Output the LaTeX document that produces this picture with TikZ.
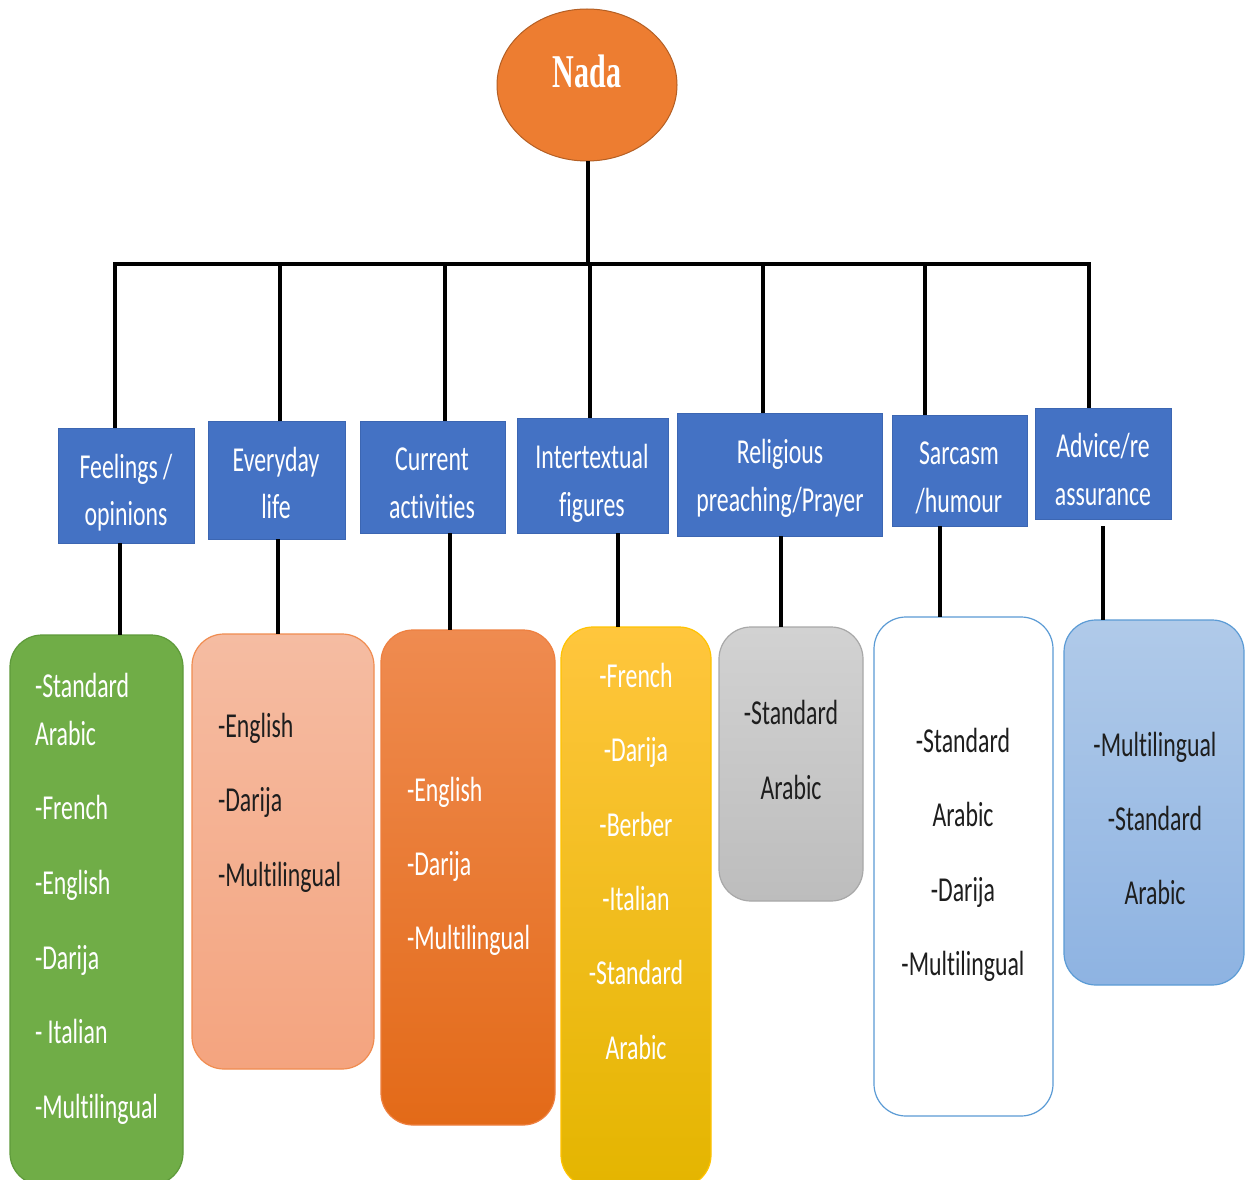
\documentclass[tikz,border=0pt]{standalone}
\usepackage{fontspec}
\setmainfont{Carlito}[FakeStretch=0.68, Ligatures={NoCommon,NoContextual}, RawFeature={-liga;-clig;-dlig}]
\newfontfamily\namefont{Liberation Serif}[FakeStretch=0.64]
\usetikzlibrary{shapes.geometric}

\definecolor{rootfill}{HTML}{ED7D31}
\definecolor{rootedge}{HTML}{B45F24}
\definecolor{catblue}{HTML}{4472C4}
\definecolor{catedge}{HTML}{3C66B2}
\definecolor{greenfill}{HTML}{70AD47}
\definecolor{greenedge}{HTML}{5E9A3A}
\definecolor{salmontop}{HTML}{F5BCA2}
\definecolor{salmonbot}{HTML}{F4A47F}
\definecolor{salmonedge}{HTML}{F08C50}
\definecolor{orangetop}{HTML}{EF8B50}
\definecolor{orangebot}{HTML}{E36A18}
\definecolor{orangeedge}{HTML}{EE8040}
\definecolor{yellowtop}{HTML}{FFC63D}
\definecolor{yellowmid}{HTML}{FFC300}
\definecolor{yellowbot}{HTML}{E4B500}
\definecolor{graytop}{HTML}{D2D2D2}
\definecolor{graybot}{HTML}{BDBDBD}
\definecolor{grayedge}{HTML}{A8A8A8}
\definecolor{skyedge}{HTML}{5B9BD5}
\definecolor{skytop}{HTML}{B0CAE9}
\definecolor{skybot}{HTML}{8EB3E2}
\definecolor{inkdark}{HTML}{1E1E1E}

\tikzset{
  every node/.style={inner sep=0pt, outer sep=0pt},
  wire/.style={line width=3.4pt, black},
  root/.style={ellipse, fill=rootfill, draw=rootedge, line width=1pt,
    minimum width=180, minimum height=152},
  rootname/.style={font=\namefont\bfseries\fontsize{47}{50}\selectfont, text=white, anchor=base},
  catbox/.style={rectangle, fill=catblue, draw=catedge, line width=1pt},
  cattext/.style={font=\fontsize{35}{40}\selectfont, text=white, anchor=base},
  langbox/.style={rectangle, rounded corners=32, line width=1.2pt},
  item/.style={font=\fontsize{35}{40}\selectfont, anchor=base},
  itemL/.style={item, anchor=base west},
}

\begin{document}
\begin{tikzpicture}[x=1pt, y=-1pt]
\clip (0,0) rectangle (1245,1180);
\fill[white] (0,0) rectangle (1245,1180);

% root
\node[root] (root) at (587,85) {};
\node[rootname] (rootlbl) at (587,88) {Nada};

% category boxes
\node[catbox, minimum width=136, minimum height=115] (c1) at (126,485.5) {};
\node[catbox, minimum width=137, minimum height=118] (c2) at (276.5,480) {};
\node[catbox, minimum width=145, minimum height=112] (c3) at (432.5,477) {};
\node[catbox, minimum width=151, minimum height=115] (c4) at (592.5,475.5) {};
\node[catbox, minimum width=205, minimum height=123] (c5) at (779.5,474.5) {};
\node[catbox, minimum width=135, minimum height=111] (c6) at (959.5,470.5) {};
\node[catbox, minimum width=136, minimum height=111] (c7) at (1103,463.5) {};

\node[cattext] (c1a) at (126,478) {Feelings /};
\node[cattext] (c1b) at (126,525) {opinions};
\node[cattext] (c2a) at (276,471) {Everyday};
\node[cattext] (c2b) at (276,518) {life};
\node[cattext] (c3a) at (432,470) {Current};
\node[cattext] (c3b) at (432,518) {activities};
\node[cattext] (c4a) at (592,468) {Intertextual};
\node[cattext] (c4b) at (592,516) {figures};
\node[cattext] (c5a) at (780,463) {Religious};
\node[cattext] (c5b) at (780,511) {preaching/Prayer};
\node[cattext] (c6a) at (959,464) {Sarcasm};
\node[cattext] (c6b) at (959,512) {/humour};
\node[cattext] (c7a) at (1103,457) {Advice/re};
\node[cattext] (c7b) at (1103,505) {assurance};

% language boxes
\node[langbox, fill=greenfill, draw=greenedge, minimum width=173, minimum height=550] (l1) at (96.5,910) {};
\node[langbox, top color=salmontop, bottom color=salmonbot, draw=salmonedge, minimum width=182, minimum height=435] (l2) at (283,851.5) {};
\node[langbox, top color=orangetop, bottom color=orangebot, draw=orangeedge, minimum width=174, minimum height=495] (l3) at (468,877.5) {};
\node[langbox, top color=yellowtop, middle color=yellowmid, bottom color=yellowbot, draw=yellowmid, minimum width=150, minimum height=560] (l4) at (636,907) {};
\node[langbox, top color=graytop, bottom color=graybot, draw=grayedge, minimum width=144, minimum height=274] (l5) at (791,764) {};
\node[langbox, fill=white, draw=skyedge, minimum width=179, minimum height=499] (l6) at (963.5,866.5) {};
\node[langbox, top color=skytop, bottom color=skybot, draw=skyedge, minimum width=180, minimum height=365] (l7) at (1154,802.5) {};

% language lists
\begin{scope}[every node/.append style={text=white}]
\node[itemL] (g1) at (35,697) {-Standard};
\node[itemL] (g2) at (35,745) {Arabic};
\node[itemL] (g3) at (35,819) {-French};
\node[itemL] (g4) at (35,894) {-English};
\node[itemL] (g5) at (35,969) {-Darija};
\node[itemL] (g6) at (35,1043) {- Italian};
\node[itemL] (g7) at (35,1118) {-Multilingual};

\node[itemL] (o1) at (407,801) {-English};
\node[itemL] (o2) at (407,875) {-Darija};
\node[itemL] (o3) at (407,949) {-Multilingual};

\node[item] (y1) at (636,687) {-French};
\node[item] (y2) at (636,761) {-Darija};
\node[item] (y3) at (636,836) {-Berber};
\node[item] (y4) at (636,910) {-Italian};
\node[item] (y5) at (636,984) {-Standard};
\node[item] (y6) at (636,1059) {Arabic};
\end{scope}

\begin{scope}[every node/.append style={text=inkdark}]
\node[itemL] (s1) at (218,737) {-English};
\node[itemL] (s2) at (218,811) {-Darija};
\node[itemL] (s3) at (218,886) {-Multilingual};

\node[item] (r1) at (791,724) {-Standard};
\node[item] (r2) at (791,799) {Arabic};

\node[item] (w1) at (963,752) {-Standard};
\node[item] (w2) at (963,826) {Arabic};
\node[item] (w3) at (963,901) {-Darija};
\node[item] (w4) at (963,975) {-Multilingual};

\node[item] (b1) at (1155,756) {-Multilingual};
\node[item] (b2) at (1155,830) {-Standard};
\node[item] (b3) at (1155,904) {Arabic};
\end{scope}

% tree connectors
\coordinate (hub) at (588,264);
\coordinate (busL) at (113,264);
\coordinate (busR) at (1091,264);
\draw[wire] (root.south -| hub) -- (hub);
\draw[wire] (busL) -- (busR);

\foreach \c/\x in {c1/115, c2/280, c3/445, c4/590, c5/763, c6/925, c7/1089}{
  \coordinate (up-\c) at (\x,264);
  \draw[wire] (up-\c) -- (up-\c |- \c.north);
}

\foreach \c/\l/\x in {c1/l1/120, c2/l2/278, c3/l3/450, c4/l4/618, c5/l5/781, c6/l6/940}{
  \coordinate (dn-\c) at (\x,0);
  \draw[wire] (dn-\c |- \c.south) -- (dn-\c |- \l.north);
}
\coordinate (dn-c7) at (1103,526);
\draw[wire] (dn-c7) -- (dn-c7 |- l7.north);
\end{tikzpicture}
\end{document}
